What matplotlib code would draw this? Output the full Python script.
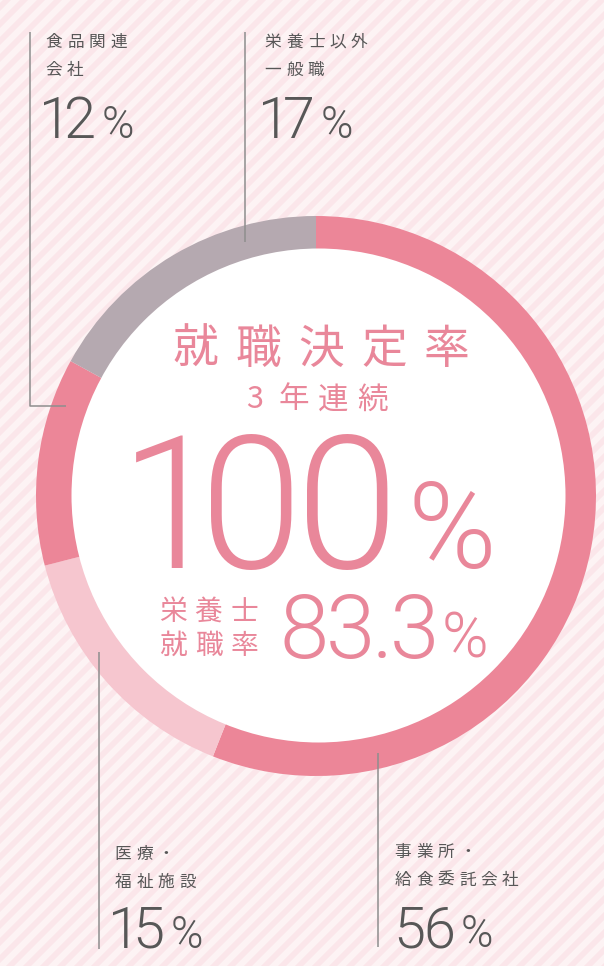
import matplotlib.pyplot as plt
from matplotlib.patches import Circle, Polygon

W, H = 604, 966

# ring segments, clockwise from 12 o'clock
sectors = ["事業所・\n給食委託会社", "医療・\n福祉施設", "食品関連\n会社", "栄養士以外\n一般職"]
shares = [56, 15, 12, 17]
ring_colors = ["#ec8698", "#f6c6cf", "#ec8698", "#b5a9b0"]

title = "就職決定率"
subtitle = "3年連続"
rate_total = "100"
rate_dietitian = "83.3"
rate_dietitian_label = ["栄養士", "就職率"]

PINK = "#e9879a"
GREY = "#575757"
LINE = "#8e8e8e"
JP = ["Noto Sans CJK JP", "DejaVu Sans"]
NUM = ["Roboto", "DejaVu Sans"]

# label layout: text left x, first line centre y, percent baseline y
label_pos = [(395, 852, 947), (115, 854, 948), (46, 42, 138), (265, 42, 138)]
leaders = [
    [(378, 753), (378, 947)],
    [(99, 652), (99, 949)],
    [(30, 32), (30, 406), (66, 406)],
    [(245, 32), (245, 242)],
]


def spaced(ax, x0, y, s, size, pitch, **kw):
    # place characters one by one to get the wide letter spacing
    for i, ch in enumerate(s):
        ax.text(x0 + i * pitch, y, ch, fontsize=size, ha="center", va="center",
                family=JP, **kw)


def number(ax, x0, base, s, size, color, pct_scale=0.72, gap=0.1):
    # digits set one by one so the "1" can sit narrower than the tabular width
    em = size / 0.72
    adv = {"1": 0.34, ".": 0.2}
    x = x0
    for ch in s:
        a = adv.get(ch, 0.52) * em
        ax.text(x + a / 2, base, ch, fontsize=size, ha="center", va="baseline",
                family=NUM, weight=300, color=color, zorder=4)
        x += a
    ax.text(x + gap * em, base, "%", fontsize=size * pct_scale, ha="left",
            va="baseline", family=NUM, weight=300, color=color, zorder=4)


fig = plt.figure(figsize=(W / 100, H / 100), dpi=100, facecolor="#fdf3f4")
ax = fig.add_axes([0, 0, 1, 1])
ax.set_facecolor("#fdf3f4")

# diagonal stripes in the background
for c in range(-H, W + H, 17):
    ax.add_patch(Polygon([(c, 0), (c + 8, 0), (c + 8 - H, H), (c - H, H)],
                         closed=True, fc="#fbe6ea", ec="none", zorder=0))

ax.pie(shares, colors=ring_colors, startangle=270, counterclock=True,
       radius=280, center=(316, 496), frame=True,
       wedgeprops=dict(width=44, linewidth=0, antialiased=True))
ax.add_patch(Circle((318.5, 495.5), 247, fc="white", ec="none", zorder=3))

ax.set_xlim(0, W)
ax.set_ylim(H, 0)
ax.set_aspect("equal")
ax.axis("off")

# leader lines and labels
for name, share, (tx, ty, pb), pts in zip(sectors, shares, label_pos, leaders):
    xs, ys = zip(*pts)
    ax.plot(xs, ys, color=LINE, lw=1.1, zorder=2, solid_capstyle="butt")
    for j, line in enumerate(name.split("\n")):
        spaced(ax, tx + 8, ty + j * 28, line, 12, 21.5, color=GREY, zorder=4)
    number(ax, tx - 1, pb, str(share), 41.5, GREY, pct_scale=0.76, gap=0.12)

# centre text
spaced(ax, 195, 350, title, 33, 63, color=PINK, zorder=4)
spaced(ax, 255, 400, subtitle, 22, 39, color=PINK, zorder=4)
number(ax, 140, 568, rate_total, 133, PINK, pct_scale=0.65, gap=0.07)
for j, line in enumerate(rate_dietitian_label):
    spaced(ax, 173, 612 + j * 34, line, 20, 35.5, color=PINK, zorder=4)
number(ax, 281, 658, rate_dietitian, 64, PINK, pct_scale=0.71, gap=0.05)

fig.savefig("out.png", dpi=100, facecolor=fig.get_facecolor())
